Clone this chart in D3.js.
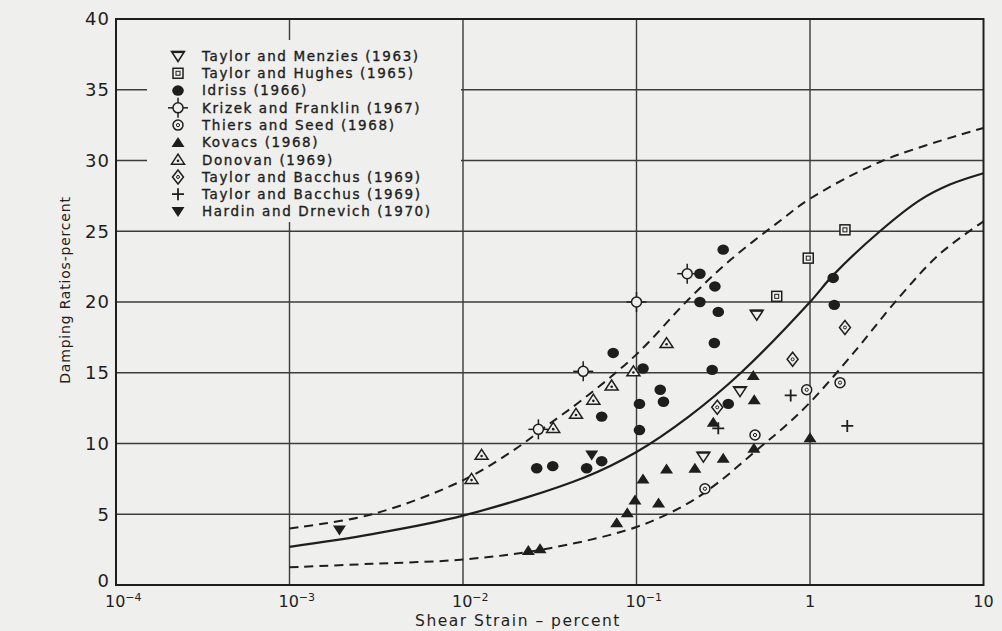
<!DOCTYPE html>
<html>
<head>
<meta charset="utf-8">
<script src="https://cdn.jsdelivr.net/npm/d3@7"></script>
<style>
  html, body { margin: 0; padding: 0; background: #efefed; }
  svg { display: block; }
  text { font-family: "DejaVu Sans", sans-serif; fill: #1e1e1e; }
</style>
</head>
<body>
<div id="chart"></div>
<script>
// shear strain (percent) vs damping ratio (percent)
var xTicks = [1e-4, 1e-3, 1e-2, 1e-1, 1, 10];
var xTickBase = ["10", "10", "10", "10", "1", "10"];
var xTickExp = ["-4", "-3", "-2", "-1", "", ""];
var yTicks = [0, 5, 10, 15, 20, 25, 30, 35, 40];

// curves
var upperCurve = [[0.001, 4.0], [0.003, 5.0], [0.01, 7.4], [0.02, 9.6], [0.03, 11.2], [0.05, 13.2],
  [0.1, 16.3], [0.2, 20.2], [0.35, 23.0], [0.7, 25.9], [1, 27.3], [2.64, 30.0], [10, 32.3]];
var meanCurve = [[0.001, 2.7], [0.003, 3.6], [0.01, 4.9], [0.05, 7.6],
  [0.1, 9.4], [0.2, 11.9], [0.4, 15.0], [1, 20.0], [1.36, 21.9], [2.53, 25.0], [4.3, 27.2],
  [6.4, 28.3], [10, 29.1]];
var lowerCurve = [[0.001, 1.25], [0.003, 1.5], [0.01, 1.8], [0.03, 2.55], [0.1, 4.1], [0.2, 5.8],
  [0.3, 7.3], [0.5, 9.6], [0.7, 11.1], [1, 12.9], [1.7, 16.1], [3.3, 20.4], [5.6, 23.4], [10, 25.7]];

// test data
var taylorMenzies = [[0.493, 19.1], [0.395, 13.7], [0.243, 9.07]];
var taylorHughes = [[0.643, 20.4], [0.977, 23.1], [1.59, 25.1]];
var idriss = [[0.0266, 8.25], [0.0329, 8.4], [0.0516, 8.25], [0.063, 8.75], [0.063, 11.9], [0.0734, 16.4],
  [0.104, 12.8], [0.104, 10.95], [0.109, 15.3], [0.137, 13.8], [0.143, 12.95], [0.232, 22.0],
  [0.316, 23.7], [0.283, 21.1], [0.232, 20.0], [0.296, 19.3], [0.281, 17.1], [0.273, 15.2],
  [0.338, 12.8], [1.36, 21.7], [1.38, 19.8]];
var krizekFranklin = [[0.0272, 11.0], [0.0493, 15.1], [0.1, 20.0], [0.196, 22.0]];
var thiersSeed = [[0.957, 13.8], [0.482, 10.6], [1.49, 14.3], [0.248, 6.8]];
var kovacs = [[0.0238, 2.43], [0.0278, 2.57], [0.0769, 4.4], [0.0885, 5.1], [0.098, 6.0], [0.109, 7.5],
  [0.134, 5.8], [0.149, 8.2], [0.217, 8.25], [0.316, 8.95], [0.277, 11.5], [0.475, 9.66],
  [0.471, 14.8], [0.477, 13.1], [1.0, 10.4]];
var donovan = [[0.0112, 7.5], [0.0128, 9.2], [0.0331, 11.1], [0.0448, 12.1], [0.0564, 13.1],
  [0.0719, 14.1], [0.096, 15.1], [0.149, 17.1]];
var taylorBacchusA = [[0.794, 15.95], [0.292, 12.56], [1.59, 18.2]];
var taylorBacchusB = [[0.774, 13.4], [1.64, 11.24], [0.296, 11.07]];
var hardinDrnevich = [[0.00194, 3.89], [0.0552, 9.19]];

var seriesNames = ["Taylor and Menzies (1963)", "Taylor and Hughes (1965)", "Idriss (1966)",
  "Krizek and Franklin (1967)", "Thiers and Seed (1968)", "Kovacs (1968)", "Donovan (1969)",
  "Taylor and Bacchus (1969)", "Taylor and Bacchus (1969)", "Hardin and Drnevich (1970)"];
var seriesMarks = ["triDownOpen", "squareDot", "dot", "crossCircle", "circleDot", "triUp",
  "triDot", "diamondDot", "plus", "triDown"];
var seriesData = [taylorMenzies, taylorHughes, idriss, krizekFranklin, thiersSeed, kovacs,
  donovan, taylorBacchusA, taylorBacchusB, hardinDrnevich];

var W = 1002, H = 631;
var bg = "#efefed", ink = "#1e1e1e", gridInk = "#3c3c3c";
var margin = {top: 19, right: 18.5, bottom: 46, left: 116};

var x = d3.scaleLog().domain([1e-4, 10]).range([margin.left, W - margin.right]);
var y = d3.scaleLinear().domain([0, 40]).range([H - margin.bottom, margin.top]);

var svg = d3.select("#chart").append("svg")
  .attr("width", W)
  .attr("height", H);

svg.append("rect").attr("width", W).attr("height", H).attr("fill", bg);

//grid lines
var grid = svg.append("g").attr("stroke", gridInk).attr("stroke-width", 1.4);
grid.selectAll("line.h")
  .data(yTicks.slice(1, -1))
  .join("line")
  .attr("x1", x(1e-4)).attr("x2", x(10))
  .attr("y1", d => y(d)).attr("y2", d => y(d));
grid.selectAll("line.v")
  .data(xTicks.slice(1, -1))
  .join("line")
  .attr("x1", d => x(d)).attr("x2", d => x(d))
  .attr("y1", y(0)).attr("y2", y(40));

//legend sits on a blank patch that hides the grid behind it
svg.append("rect")
  .attr("x", margin.left + 31).attr("y", margin.top + 21)
  .attr("width", x(1e-2) - 2 - (margin.left + 31))
  .attr("height", 182)
  .attr("fill", bg);

//curves - catmull-rom passes through the read points but stays smooth
var line = d3.line()
  .x(d => x(d[0]))
  .y(d => y(d[1]))
  .curve(d3.curveCatmullRom.alpha(0.5));

svg.append("path").datum(upperCurve)
  .attr("fill", "none").attr("stroke", ink).attr("stroke-width", 2)
  .attr("stroke-dasharray", "9,6").attr("d", line);
svg.append("path").datum(lowerCurve)
  .attr("fill", "none").attr("stroke", ink).attr("stroke-width", 2)
  .attr("stroke-dasharray", "9,6").attr("d", line);
svg.append("path").datum(meanCurve)
  .attr("fill", "none").attr("stroke", ink).attr("stroke-width", 2.2).attr("d", line);

//frame
svg.append("rect")
  .attr("x", x(1e-4)).attr("y", y(40))
  .attr("width", x(10) - x(1e-4)).attr("height", y(0) - y(40))
  .attr("fill", "none").attr("stroke", ink).attr("stroke-width", 2);

//marker drawing, each one centred on its own g
function drawMark(g, kind) {
  var sw = 1.5;
  if (kind == "triDownOpen") {
    g.append("path").attr("d", "M0,5.5L6.5,-4.5L-6.5,-4.5Z")
      .attr("fill", bg).attr("stroke", ink).attr("stroke-width", sw);
    g.append("line").attr("x1", -6).attr("x2", 6).attr("y1", -4).attr("y2", -4)
      .attr("stroke", ink).attr("stroke-width", 2.2);
  } else if (kind == "squareDot") {
    g.append("rect").attr("x", -5).attr("y", -5).attr("width", 10).attr("height", 10)
      .attr("fill", bg).attr("stroke", ink).attr("stroke-width", sw);
    g.append("rect").attr("x", -2).attr("y", -2).attr("width", 4).attr("height", 4)
      .attr("fill", "none").attr("stroke", ink).attr("stroke-width", 1);
  } else if (kind == "dot") {
    g.append("ellipse").attr("rx", 5.8).attr("ry", 5.2).attr("fill", ink);
  } else if (kind == "crossCircle") {
    g.append("circle").attr("r", 5).attr("fill", bg).attr("stroke", ink).attr("stroke-width", sw);
    [[-10, 0, -5, 0], [5, 0, 10, 0], [0, -10, 0, -5], [0, 5, 0, 10]].forEach(function(s) {
      g.append("line").attr("x1", s[0]).attr("y1", s[1]).attr("x2", s[2]).attr("y2", s[3])
        .attr("stroke", ink).attr("stroke-width", sw);
    });
  } else if (kind == "circleDot") {
    g.append("circle").attr("r", 5).attr("fill", bg).attr("stroke", ink).attr("stroke-width", sw);
    g.append("circle").attr("r", 1.6).attr("fill", "none").attr("stroke", ink).attr("stroke-width", 1);
  } else if (kind == "triUp") {
    g.append("path").attr("d", "M0,-5.5L6.5,4.5L-6.5,4.5Z").attr("fill", ink);
  } else if (kind == "triDot") {
    g.append("path").attr("d", "M0,-5.5L6.5,4.5L-6.5,4.5Z")
      .attr("fill", bg).attr("stroke", ink).attr("stroke-width", sw);
    g.append("circle").attr("cy", 1.2).attr("r", 1.3).attr("fill", ink);
  } else if (kind == "diamondDot") {
    g.append("path").attr("d", "M0,-7L5.5,0L0,7L-5.5,0Z")
      .attr("fill", bg).attr("stroke", ink).attr("stroke-width", sw);
    g.append("circle").attr("r", 1.5).attr("fill", "none").attr("stroke", ink).attr("stroke-width", 1);
  } else if (kind == "plus") {
    g.append("path").attr("d", "M-6,0H6M0,-6V6").attr("stroke", ink).attr("stroke-width", 1.8);
  } else if (kind == "triDown") {
    g.append("path").attr("d", "M0,5.5L6.5,-4.5L-6.5,-4.5Z").attr("fill", ink);
  }
}

//data points
seriesData.forEach(function(pts, i) {
  svg.append("g").selectAll("g")
    .data(pts)
    .join("g")
    .attr("transform", d => "translate(" + x(d[0]) + "," + y(d[1]) + ")")
    .each(function() { drawMark(d3.select(this), seriesMarks[i]); });
});

//legend
var legendY = d3.scaleLinear().domain([0, 9]).range([56, 211.5]);
var legend = svg.append("g");
seriesNames.forEach(function(name, i) {
  var row = legend.append("g").attr("transform", "translate(0," + legendY(i) + ")");
  drawMark(row.append("g").attr("transform", "translate(178,0)"), seriesMarks[i]);
  row.append("text")
    .attr("x", 202).attr("dy", "0.36em")
    .attr("font-size", 13.5).attr("letter-spacing", 1.6)
    .attr("stroke", ink).attr("stroke-width", 0.35)
    .text(name);
});

//y tick labels
svg.selectAll("text.ytick")
  .data(yTicks)
  .join("text")
  .attr("class", "ytick")
  .attr("x", margin.left - 6)
  .attr("y", d => d == 0 ? y(d) - 4 : y(d))
  .attr("dy", "0.36em")
  .attr("text-anchor", "end")
  .attr("font-size", 18)
  .attr("letter-spacing", 1)
  .text(d => d);

//x tick labels, powers of ten with raised exponent hanging to the right
var xl = svg.selectAll("text.xtick")
  .data(xTicks)
  .join("text")
  .attr("class", "xtick")
  .attr("x", (d, i) => xTickExp[i] ? x(d) - 11 : x(d))
  .attr("y", y(0) + 22)
  .attr("text-anchor", (d, i) => xTickExp[i] ? "start" : "middle")
  .attr("font-size", 16);
xl.append("tspan").text((d, i) => xTickBase[i]);
xl.append("tspan")
  .attr("dy", -6)
  .attr("font-size", 11)
  .text((d, i) => xTickExp[i] ? xTickExp[i].replace("-", "\u2212") : "");

//axis titles
svg.append("text")
  .attr("x", 518).attr("y", 626)
  .attr("text-anchor", "middle")
  .attr("font-size", 15.5).attr("letter-spacing", 1.5)
  .text("Shear Strain \u2013 percent");

svg.append("text")
  .attr("transform", "translate(65,290) rotate(-90)")
  .attr("dy", "0.36em")
  .attr("text-anchor", "middle")
  .attr("font-size", 14).attr("letter-spacing", 0.8)
  .text("Damping Ratios-percent");
</script>
</body>
</html>
